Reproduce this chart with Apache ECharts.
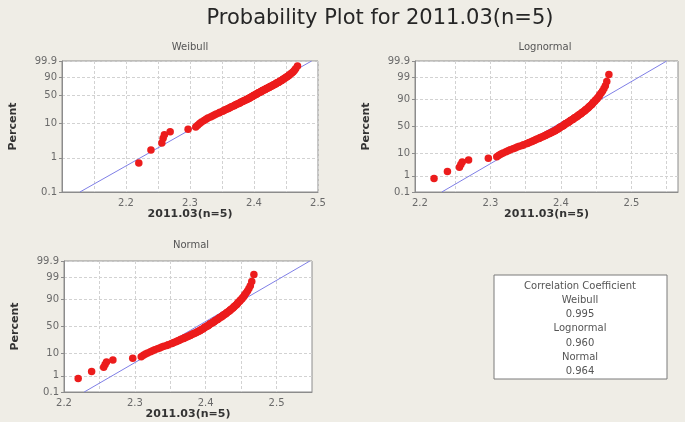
<!DOCTYPE html>
<html><head><meta charset="utf-8">
<script src="https://cdn.jsdelivr.net/npm/echarts@6/dist/echarts.min.js"></script>
<style>html,body{margin:0;padding:0;background:#efede6}#c{width:685px;height:422px}</style>
</head><body><div id="c"></div>
<script>
// ---------- data ----------
const mainTitle = 'Probability Plot for 2011.03(n=5)';
const xName = '2011.03(n=5)';
const yName = 'Percent';
const panelNames = ['Weibull', 'Lognormal', 'Normal'];

// sorted observations (x) and their plotted percent positions
const values = [
  2.220, 2.239, 2.256, 2.258, 2.260, 2.269, 2.297, 2.309, 2.312, 2.315,
  2.318, 2.322, 2.325, 2.328, 2.332, 2.335, 2.338, 2.341, 2.345, 2.347,
  2.351, 2.353, 2.355, 2.358, 2.360, 2.362, 2.364, 2.366, 2.369, 2.370,
  2.372, 2.374, 2.376, 2.378, 2.379, 2.381, 2.383, 2.384, 2.386, 2.388,
  2.389, 2.391, 2.392, 2.393, 2.394, 2.396, 2.397, 2.398, 2.399, 2.400,
  2.402, 2.403, 2.404, 2.405, 2.406, 2.407, 2.409, 2.410, 2.411, 2.412,
  2.413, 2.414, 2.416, 2.417, 2.418, 2.419, 2.420, 2.422, 2.423, 2.424,
  2.425, 2.426, 2.428, 2.429, 2.430, 2.431, 2.433, 2.434, 2.435, 2.436,
  2.438, 2.439, 2.440, 2.441, 2.443, 2.444, 2.445, 2.446, 2.448, 2.449,
  2.451, 2.452, 2.454, 2.455, 2.457, 2.459, 2.461, 2.463, 2.465, 2.468
];
const percents = [
  0.70, 1.69, 2.69, 3.69, 4.68, 5.68, 6.67, 7.67, 8.67, 9.66,
  10.66, 11.65, 12.65, 13.65, 14.64, 15.64, 16.63, 17.63, 18.63, 19.62,
  20.62, 21.61, 22.61, 23.61, 24.60, 25.60, 26.59, 27.59, 28.59, 29.58,
  30.58, 31.57, 32.57, 33.57, 34.56, 35.56, 36.55, 37.55, 38.55, 39.54,
  40.54, 41.53, 42.53, 43.53, 44.52, 45.52, 46.51, 47.51, 48.51, 49.50,
  50.50, 51.49, 52.49, 53.49, 54.48, 55.48, 56.47, 57.47, 58.47, 59.46,
  60.46, 61.45, 62.45, 63.45, 64.44, 65.44, 66.43, 67.43, 68.43, 69.42,
  70.42, 71.41, 72.41, 73.41, 74.40, 75.40, 76.39, 77.39, 78.39, 79.38,
  80.38, 81.37, 82.37, 83.37, 84.36, 85.36, 86.35, 87.35, 88.35, 89.34,
  90.34, 91.33, 92.33, 93.33, 94.32, 95.32, 96.31, 97.31, 98.31, 99.30
];

// fitted lines (end points: [x, percent])
const weibullFit = [[2.128, 0.1], [2.490, 99.9]];
const lognormalFit = [[2.231, 0.1], [2.550, 99.9]];
const normalFit = [[2.2285, 0.1], [2.547, 99.9]];

// tick labels
const weibullYTicks = [0.1, 1, 10, 50, 90, 99.9];
const normalYTicks = [0.1, 1, 10, 50, 90, 99, 99.9];
const xLabelTicks = [2.2, 2.3, 2.4, 2.5];
const weibullXGrid = [2.15, 2.2, 2.25, 2.3, 2.35, 2.4, 2.45, 2.5];
const lognormalXGrid = [2.25, 2.3, 2.35, 2.4, 2.45, 2.5, 2.55];
const normalXGrid = [2.25, 2.3, 2.35, 2.4, 2.45, 2.5];

// correlation box
const corrHeader = 'Correlation Coefficient';
const corrNames = ['Weibull', 'Lognormal', 'Normal'];
const corrValues = ['0.995', '0.960', '0.964'];

// ---------- probability scales ----------
function qnorm(p) {
  const a = [-3.969683028665376e+01, 2.209460984245205e+02, -2.759285104469687e+02, 1.383577518672690e+02, -3.066479806614716e+01, 2.506628277459239e+00];
  const b = [-5.447609879822406e+01, 1.615858368580409e+02, -1.556989798598866e+02, 6.680131188771972e+01, -1.328068155288572e+01];
  const c = [-7.784894002430293e-03, -3.223964580411365e-01, -2.400758277161838e+00, -2.549732539343734e+00, 4.374664141464968e+00, 2.938163982698783e+00];
  const d = [7.784695709041462e-03, 3.224671290700398e-01, 2.445134137142996e+00, 3.754408661907416e+00];
  const pl = 0.02425, ph = 1 - pl; let q, r;
  if (p < pl) { q = Math.sqrt(-2 * Math.log(p)); return (((((c[0]*q+c[1])*q+c[2])*q+c[3])*q+c[4])*q+c[5]) / ((((d[0]*q+d[1])*q+d[2])*q+d[3])*q+1); }
  if (p <= ph) { q = p - 0.5; r = q*q; return (((((a[0]*r+a[1])*r+a[2])*r+a[3])*r+a[4])*r+a[5])*q / (((((b[0]*r+b[1])*r+b[2])*r+b[3])*r+b[4])*r+1); }
  q = Math.sqrt(-2 * Math.log(1 - p)); return -(((((c[0]*q+c[1])*q+c[2])*q+c[3])*q+c[4])*q+c[5]) / ((((d[0]*q+d[1])*q+d[2])*q+d[3])*q+1);
}
const tWeibull = pct => Math.log(-Math.log(1 - pct / 100));
const tNormal = pct => qnorm(pct / 100);

// ---------- layout ----------
const grids = [
  { left: 62, top: 61, width: 256, height: 131, xMin: 2.1, xMax: 2.5, xGrid: weibullXGrid, T: tWeibull, yTicks: weibullYTicks, fit: weibullFit, xNameGap: 17, titleX: 190, titleY: 47 },
  { left: 415, top: 61, width: 263, height: 131, xMin: 2.193, xMax: 2.566, xGrid: lognormalXGrid, T: tNormal, yTicks: normalYTicks, fit: lognormalFit, xNameGap: 17, titleX: 545, titleY: 47 },
  { left: 64, top: 261, width: 248, height: 131, xMin: 2.2, xMax: 2.55, xGrid: normalXGrid, T: tNormal, yTicks: normalYTicks, fit: normalFit, xNameGap: 16, titleX: 191, titleY: 245 }
];

const axisGray = '#8c8c8c';
const labelColor = '#6a6a6a';
const option = {
  backgroundColor: '#efede6',
  animation: false,
  title: {
    text: mainTitle, left: 375, top: 3, textAlign: 'center',
    textStyle: { fontFamily: 'DejaVu Sans', fontSize: 21, fontWeight: 'normal', color: '#262626' }
  },
  grid: grids.map(g => ({ left: g.left, top: g.top, width: g.width, height: g.height, show: true, backgroundColor: '#ffffff', borderColor: axisGray, borderWidth: 1 })),
  xAxis: grids.map((g, i) => ({
    type: 'value', gridIndex: i, min: g.xMin, max: g.xMax,
    name: xName, nameLocation: 'middle', nameGap: g.xNameGap,
    nameTextStyle: { fontFamily: 'DejaVu Sans', fontSize: 11, fontWeight: 'bold', color: '#333' },
    axisLine: { show: true, onZero: false, lineStyle: { color: axisGray } },
    axisTick: { show: false, customValues: g.xGrid },
    axisLabel: { customValues: xLabelTicks, margin: 6, fontFamily: 'DejaVu Sans', fontSize: 10, color: labelColor, formatter: v => v.toFixed(1) },
    splitLine: { show: true, lineStyle: { color: '#d2d2d2', type: [3, 2], width: 1 } }
  })),
  yAxis: grids.map((g, i) => {
    const tv = g.yTicks.map(g.T);
    return {
      type: 'value', gridIndex: i, min: g.T(0.1), max: g.T(99.9),
      name: yName, nameLocation: 'middle', nameGap: 43, nameRotate: 90,
      nameTextStyle: { fontFamily: 'DejaVu Sans', fontSize: 11, fontWeight: 'bold', color: '#333' },
      axisLine: { show: true, onZero: false, lineStyle: { color: axisGray } },
      axisTick: { show: true, length: 3, customValues: tv, lineStyle: { color: axisGray } },
      axisLabel: {
        customValues: tv, margin: 5, fontFamily: 'DejaVu Sans', fontSize: 10, color: labelColor,
        formatter: v => { let best = 0, bd = Infinity; tv.forEach((t, k) => { const d = Math.abs(t - v); if (d < bd) { bd = d; best = k; } }); return String(g.yTicks[best]); }
      },
      splitLine: { show: true, lineStyle: { color: '#d2d2d2', type: [3, 2], width: 1 } }
    };
  }),
  series: [].concat(...grids.map((g, i) => [
    {
      type: 'line', xAxisIndex: i, yAxisIndex: i, symbol: 'none', silent: true,
      lineStyle: { color: '#7f7fe6', width: 1 },
      data: g.fit.map(p => [p[0], g.T(p[1])]), z: 2
    },
    {
      type: 'scatter', xAxisIndex: i, yAxisIndex: i, symbolSize: 7.5,
      itemStyle: { color: '#ec1c1c', opacity: 1 },
      data: values.map((x, k) => [x, g.T(percents[k])]), z: 3
    }
  ])),
  graphic: [].concat(
    grids.map((g, i) => ({
      type: 'text', x: g.titleX, y: g.titleY,
      style: { text: panelNames[i], font: '10px "DejaVu Sans"', fill: '#555', align: 'center', verticalAlign: 'middle', textAlign: 'center', textVerticalAlign: 'middle' }
    })),
    [{ type: 'rect', shape: { x: 494, y: 275, width: 173, height: 104 }, style: { fill: '#ffffff', stroke: '#7a7a7a', lineWidth: 1 } }],
    [corrHeader].concat(...corrNames.map((n, k) => [n, corrValues[k]])).map((t, k) => ({
      type: 'text', x: 580, y: 286 + k * 14.3,
      style: { text: t, font: '10px "DejaVu Sans"', fill: '#555', align: 'center', verticalAlign: 'middle', textAlign: 'center', textVerticalAlign: 'middle' }
    }))
  )
};
const chart = echarts.init(document.getElementById('c'), null, { renderer: 'canvas' });
chart.setOption(option);
</script>
</body></html>
